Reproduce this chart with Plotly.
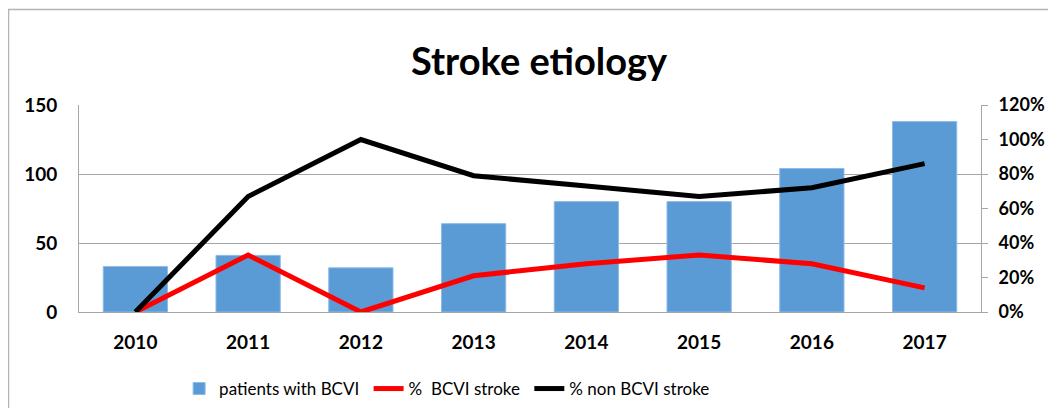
import plotly.graph_objects as go

years = ["2010", "2011", "2012", "2013", "2014", "2015", "2016", "2017"]
patients_bcvi = [33, 41, 32, 64, 80, 80, 104, 138]
pct_bcvi_stroke = [0, 33, 0, 21, 28, 33, 28, 14]
pct_non_bcvi_stroke = [0, 67, 100, 79, 73, 67, 72, 86]
left_ticks = [0, 50, 100, 150]
right_ticks = [0, 20, 40, 60, 80, 100, 120]
right_tick_labels = [f"{v}%" for v in right_ticks]

FONT = "Lato"
NB = "\u00a0"

fig = go.Figure()
fig.add_trace(go.Bar(
    x=years, y=patients_bcvi, name="patients with BCVI" + NB,
    marker=dict(color="#5b9bd5", line=dict(color="#8dbbe8", width=1)),
    yaxis="y",
))
fig.add_trace(go.Scatter(
    x=years, y=pct_bcvi_stroke, name="%" + NB + " BCVI stroke" + NB, mode="lines",
    line=dict(color="#ff0000", width=5), yaxis="y2",
))
fig.add_trace(go.Scatter(
    x=years, y=pct_non_bcvi_stroke, name="% non BCVI stroke", mode="lines",
    line=dict(color="#000000", width=5), yaxis="y2",
))

# page body has an 8px default margin, so the figure starts at (8, 8)
W, H = 1040, 400
L, T = 71, 97
PW, PH = 902, 207

fig.update_layout(
    width=W, height=H,
    margin=dict(l=L, r=W - L - PW, t=T, b=H - T - PH, autoexpand=False),
    paper_bgcolor="white", plot_bgcolor="white",
    bargap=0.43,
    title=dict(text="<b>Stroke etiology</b>", x=0.51, xanchor="center",
               y=0.865, yanchor="middle", xref="paper",
               font=dict(family=FONT, size=38, color="#000000")),
    xaxis=dict(
        type="category", showgrid=False, showline=True, linecolor="#a6a6a6",
        linewidth=1, ticks="", ticklabelstandoff=13,
        tickfont=dict(family=FONT, size=19, color="#000000", weight="bold"),
    ),
    yaxis=dict(
        range=[0, 150], tickvals=left_ticks, showgrid=True, gridcolor="#a6a6a6",
        gridwidth=1, showline=True, linecolor="#a6a6a6", linewidth=1,
        ticks="", ticklabelstandoff=17, zeroline=False,
        tickfont=dict(family=FONT, size=19, color="#000000", weight="bold"),
    ),
    yaxis2=dict(
        range=[0, 120], tickvals=right_ticks, ticktext=right_tick_labels,
        overlaying="y", side="right", showgrid=False, showline=True,
        linecolor="#a6a6a6", linewidth=1, ticks="outside", ticklen=6,
        tickcolor="#a6a6a6", zeroline=False, ticklabelstandoff=7,
        tickfont=dict(family=FONT, size=18, color="#000000", weight="bold"),
    ),
    legend=dict(
        orientation="h", x=0.111, xanchor="left", y=-0.285, yanchor="top",
        font=dict(family=FONT, size=17, color="#000000"),
        bgcolor="rgba(0,0,0,0)", itemwidth=30,
    ),
    showlegend=True,
)

fig.add_shape(
    type="rect", xref="paper", yref="paper",
    x0=(8.5 - 79) / PW, x1=(1070 - 79) / PW,
    y0=(312 - 430) / PH, y1=(312 - 9.5) / PH,
    line=dict(color="#b4b4b4", width=1.5), fillcolor="rgba(0,0,0,0)",
    layer="below",
)

fig.write_html("out.html")
